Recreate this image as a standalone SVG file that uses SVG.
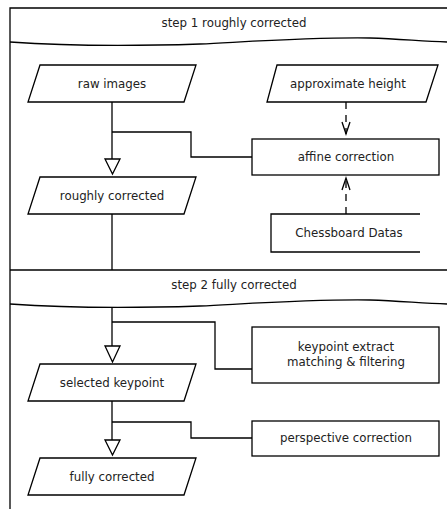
<svg xmlns="http://www.w3.org/2000/svg" width="447" height="509" viewBox="0 0 447 509">
<style>
.ln{fill:none;stroke:#000;stroke-width:1.3}
.nd{fill:#fff;stroke:#000;stroke-width:1.3}
.t{font-family:"DejaVu Sans",sans-serif;font-size:11.8px;fill:#222;text-anchor:middle;dominant-baseline:central}
.ds{fill:none;stroke:#000;stroke-width:1.3;stroke-dasharray:7,6}
</style>
<defs>
<marker id="tri" markerWidth="16" markerHeight="16" refX="7.5" refY="15" orient="auto-start-reverse" markerUnits="userSpaceOnUse" viewBox="0 0 16 16">
<path d="M0.5,0.5 L14.5,0.5 L7.5,15 Z" fill="#fff" stroke="#000" stroke-width="1.3"/>
</marker>
</defs>
<rect width="447" height="509" fill="#fff"/>
<g id="frame">
<path class="ln" d="M10,509 L10,8 L447,8"/>
<path class="ln" d="M10,270 L447,270"/>
<path class="ln" d="M10,42 C80,47 140,46 200,44 C260,41 320,37 370,38 C400,39 420,41 447,42"/>
<path class="ln" d="M10,304 C80,309 140,308 200,306 C260,303 320,299 370,300 C400,301 420,303 447,304"/>
<text class="t" x="234" y="23">step 1 roughly corrected</text>
<text class="t" x="234" y="285">step 2 fully corrected</text>
</g>
<g id="connectors">
<path class="ln" d="M112,102 L112,159"/>
<path d="M105,159 L120,159 L112.5,174 Z" fill="#fff" stroke="#000" stroke-width="1.3"/>
<path class="ln" d="M112,132 L191,132 L191,157 L252,157"/>
<path class="ln" d="M112,214 L112,270"/>
<path class="ds" d="M346,102 L346,134"/>
<path class="ln" d="M342,122 L346,134 L350,122"/>
<path class="ds" d="M346,214 L346,178"/>
<path class="ln" d="M342,190 L346,178 L350,190"/>
<path class="ln" d="M112,308 L112,346"/>
<path d="M105,346 L120,346 L112.5,362 Z" fill="#fff" stroke="#000" stroke-width="1.3"/>
<path class="ln" d="M112,322 L215,322 L215,369 L252,369"/>
<path class="ln" d="M112,401 L112,440"/>
<path d="M105,440 L120,440 L112.5,455 Z" fill="#fff" stroke="#000" stroke-width="1.3"/>
<path class="ln" d="M112,422 L191,422 L191,438 L252,438"/>
</g>
<g id="raw-images">
<path class="nd" d="M40,65 L196,65 L184,102 L28,102 Z"/>
<text class="t" x="112" y="84">raw images</text>
</g>
<g id="approximate-height">
<path class="nd" d="M277,65 L438,65 L426,102 L267,102 Z"/>
<text class="t" x="348" y="84">approximate height</text>
</g>
<g id="affine-correction">
<rect class="nd" x="252" y="139" width="187" height="36"/>
<text class="t" x="346" y="157">affine correction</text>
</g>
<g id="roughly-corrected">
<path class="nd" d="M40,177 L196,177 L184,214 L28,214 Z"/>
<text class="t" x="112" y="196">roughly corrected</text>
</g>
<g id="chessboard-datas">
<path class="nd" d="M420,214 L271,214 L271,252 L420,252"/>
<text class="t" x="349" y="233">Chessboard Datas</text>
</g>
<g id="keypoint-extract">
<rect class="nd" x="252" y="327" width="187" height="56"/>
<text class="t" x="346" y="347">keypoint extract</text>
<text class="t" x="346" y="362">matching &amp; filtering</text>
</g>
<g id="selected-keypoint">
<path class="nd" d="M40,364 L196,364 L184,401 L28,401 Z"/>
<text class="t" x="112" y="383">selected keypoint</text>
</g>
<g id="perspective-correction">
<rect class="nd" x="252" y="421" width="187" height="35"/>
<text class="t" x="346" y="438">perspective correction</text>
</g>
<g id="fully-corrected">
<path class="nd" d="M40,458 L196,458 L184,495 L28,495 Z"/>
<text class="t" x="112" y="477">fully corrected</text>
</g>
</svg>
